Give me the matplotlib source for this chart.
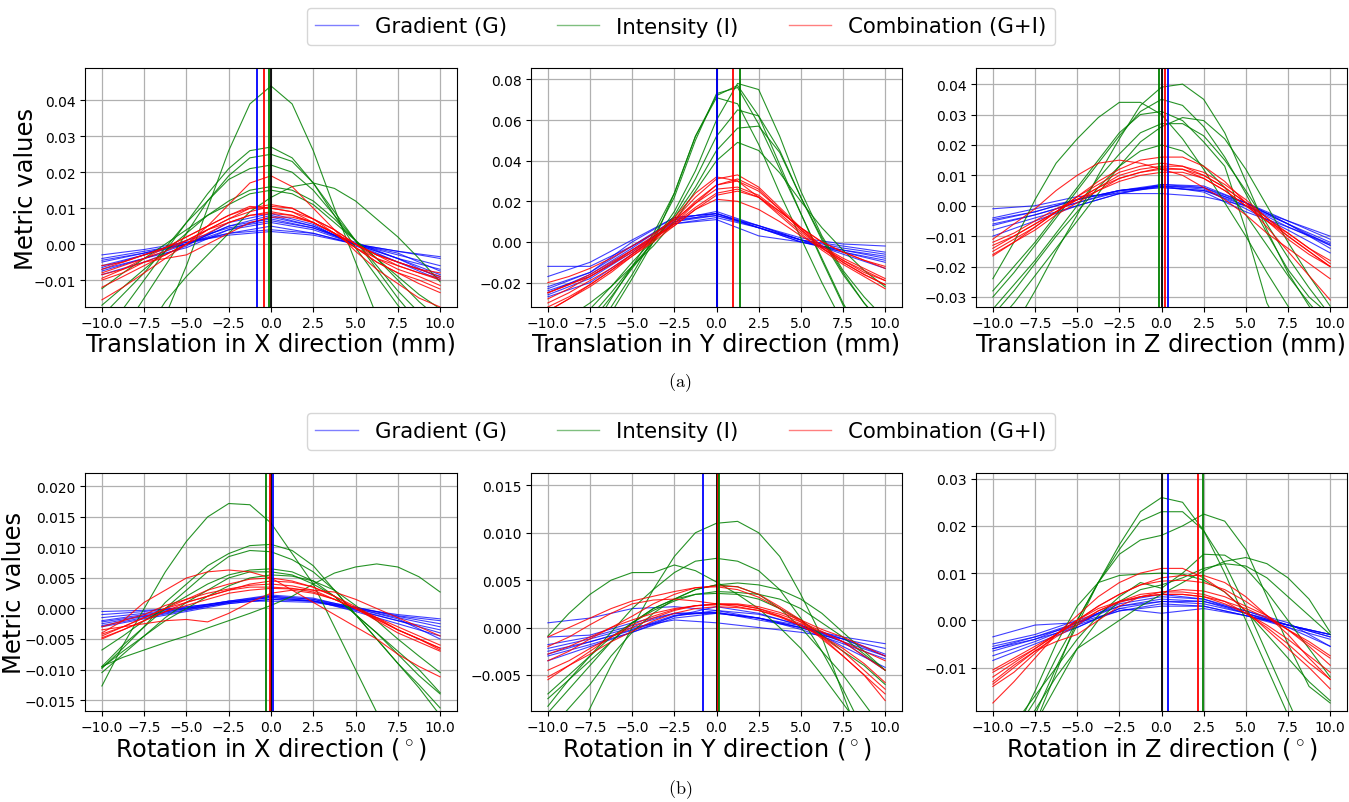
import matplotlib
matplotlib.use("Agg")
import matplotlib.pyplot as plt
from matplotlib.lines import Line2D

plt.rcParams['mathtext.fontset'] = 'cm'

X17 = [-10, -8.75, -7.5, -6.25, -5, -3.75, -2.5, -1.25, 0, 1.25, 2.5, 3.75, 5, 6.25, 7.5, 8.75, 10]
X9 = [-10, -7.5, -5, -2.5, 0, 2.5, 5, 7.5, 10]

xlabels = ["Translation in X direction (mm)", "Translation in Y direction (mm)", "Translation in Z direction (mm)",
           "Rotation in X direction ($^\\circ$)", "Rotation in Y direction ($^\\circ$)", "Rotation in Z direction ($^\\circ$)"]
legend_labels = ["Gradient (G)", "Intensity (I)", "Combination (G+I)"]
captions = ["(a)", "(b)"]

# ---------------- Translation X ----------------
tx_green = [
    [-0.055,-0.045,-0.032,-0.020,-0.006,0.010,0.026,0.039,0.044,0.039,0.026,0.010,-0.005,-0.020,-0.032,-0.042,-0.050],
    [-0.026,-0.018,-0.010,-0.002,0.006,0.014,0.021,0.026,0.027,0.024,0.017,0.008,-0.001,-0.009,-0.017,-0.024,-0.030],
    [-0.032,-0.024,-0.015,-0.006,0.003,0.012,0.019,0.024,0.025,0.023,0.017,0.009,0.001,-0.007,-0.015,-0.022,-0.028],
    [-0.020,-0.014,-0.008,-0.001,0.006,0.012,0.018,0.021,0.022,0.020,0.015,0.008,0.001,-0.006,-0.013,-0.019,-0.025],
    [-0.017,-0.012,-0.007,-0.002,0.003,0.008,0.012,0.015,0.016,0.015,0.012,0.007,0.001,-0.004,-0.010,-0.016,-0.021],
    [-0.0124,-0.008,-0.004,0.000,0.004,0.008,0.011,0.014,0.015,0.014,0.011,0.006,0.001,-0.004,-0.009,-0.014,-0.018],
    [-0.045,-0.035,-0.025,-0.016,-0.009,-0.003,0.003,0.009,0.013,0.016,0.017,0.0155,0.012,0.007,0.002,-0.004,-0.0105],
]
tx_red = [
    [-0.0155,-0.012,-0.008,-0.004,0.000,0.005,0.011,0.017,0.019,0.016,0.010,0.004,-0.002,-0.007,-0.011,-0.015,-0.0175],
    [-0.012,-0.009,-0.006,-0.003,0.000,0.004,0.007,0.010,0.011,0.010,0.007,0.003,-0.001,-0.005,-0.008,-0.011,-0.0135],
    [-0.008,-0.006,-0.004,-0.002,0.001,0.004,0.007,0.009,0.0105,0.010,0.007,0.004,0.000,-0.003,-0.005,-0.007,-0.009],
    [-0.006,-0.005,-0.003,-0.001,0.002,0.005,0.008,0.010,0.010,0.009,0.006,0.003,-0.001,-0.004,-0.006,-0.008,-0.010],
    [-0.007,-0.005,-0.003,-0.001,0.001,0.004,0.006,0.008,0.009,0.008,0.006,0.003,0.000,-0.003,-0.005,-0.007,-0.008],
    [-0.010,-0.008,-0.005,-0.003,0.000,0.003,0.006,0.008,0.0085,0.008,0.006,0.003,-0.001,-0.005,-0.008,-0.010,-0.0125],
    [-0.0085,-0.007,-0.005,-0.004,-0.003,0.000,0.003,0.006,0.0075,0.0075,0.006,0.003,0.000,-0.003,-0.006,-0.008,-0.0095],
    [-0.0095,-0.007,-0.004,-0.001,0.002,0.005,0.008,0.0105,0.010,0.009,0.007,0.004,0.000,-0.004,-0.007,-0.009,-0.0115],
]
tx_blue = [
    [-0.003,-0.0015,0.0005,0.0025,0.0035,0.0025,0.000,-0.002,-0.0035],
    [-0.004,-0.002,0.000,0.003,0.005,0.003,0.000,-0.002,-0.004],
    [-0.005,-0.0025,0.000,0.004,0.006,0.004,0.000,-0.003,-0.006],
    [-0.006,-0.003,0.000,0.005,0.007,0.0045,0.000,-0.004,-0.007],
    [-0.0075,-0.004,0.000,0.005,0.008,0.005,0.000,-0.005,-0.009],
    [-0.0085,-0.005,-0.0005,0.006,0.0085,0.0055,-0.0005,-0.005,-0.010],
    [-0.0065,-0.003,0.001,0.0045,0.0065,0.0045,0.0005,-0.004,-0.0095],
    [-0.0045,-0.0025,0.0005,0.003,0.004,0.003,0.000,-0.0025,-0.0075],
    [-0.007,-0.004,-0.001,0.004,0.0075,0.005,0.000,-0.004,-0.0085],
]
tx_vlines = [0.0, -0.82, -0.44, -0.13]   # black, blue, red, green
tx_ylim = (-0.0175, 0.049)

# ---------------- Translation Y ----------------
ty_green = [
    [-0.070,-0.060,-0.048,-0.032,-0.016,0.002,0.022,0.050,0.073,0.076,0.058,0.036,0.014,-0.008,-0.030,-0.048,-0.060],
    [-0.068,-0.058,-0.045,-0.028,-0.012,0.004,0.024,0.052,0.072,0.077,0.062,0.038,0.014,-0.009,-0.031,-0.048,-0.060],
    [-0.060,-0.050,-0.040,-0.027,-0.013,0.000,0.015,0.035,0.060,0.078,0.075,0.052,0.025,0.003,-0.014,-0.027,-0.038],
    [-0.055,-0.047,-0.037,-0.025,-0.012,0.000,0.013,0.031,0.052,0.065,0.062,0.045,0.022,0.001,-0.016,-0.030,-0.042],
    [-0.050,-0.042,-0.033,-0.022,-0.010,0.001,0.012,0.027,0.045,0.056,0.057,0.044,0.022,0.002,-0.015,-0.030,-0.042],
    [-0.043,-0.037,-0.030,-0.022,-0.012,-0.002,0.010,0.025,0.040,0.049,0.045,0.034,0.020,0.007,-0.004,-0.014,-0.022],
    [-0.072,-0.062,-0.050,-0.035,-0.018,0.000,0.024,0.052,0.071,0.068,0.048,0.024,0.002,-0.020,-0.040,-0.055,-0.068],
]
ty_red = [
    [-0.034,-0.028,-0.021,-0.014,-0.006,0.002,0.011,0.022,0.031,0.033,0.027,0.017,0.007,-0.002,-0.009,-0.015,-0.019],
    [-0.025,-0.021,-0.016,-0.010,-0.004,0.003,0.012,0.024,0.032,0.030,0.022,0.013,0.004,-0.004,-0.011,-0.017,-0.023],
    [-0.030,-0.025,-0.019,-0.013,-0.006,0.001,0.010,0.020,0.028,0.030,0.025,0.016,0.006,-0.002,-0.008,-0.013,-0.018],
    [-0.020,-0.017,-0.013,-0.008,-0.002,0.004,0.011,0.019,0.026,0.027,0.023,0.015,0.007,0.000,-0.005,-0.009,-0.012],
    [-0.025,-0.021,-0.017,-0.011,-0.005,0.002,0.009,0.017,0.024,0.026,0.022,0.014,0.005,-0.003,-0.010,-0.016,-0.021],
    [-0.032,-0.027,-0.021,-0.014,-0.007,0.000,0.008,0.016,0.023,0.025,0.022,0.015,0.007,0.000,-0.005,-0.009,-0.013],
    [-0.028,-0.023,-0.017,-0.011,-0.004,0.002,0.008,0.016,0.021,0.020,0.016,0.010,0.003,-0.003,-0.009,-0.014,-0.019],
    [-0.034,-0.028,-0.022,-0.015,-0.007,0.001,0.009,0.019,0.028,0.031,0.026,0.016,0.006,-0.003,-0.010,-0.016,-0.021],
]
ty_blue = [
    [-0.012,-0.012,-0.002,0.011,0.013,0.008,0.002,-0.001,-0.002],
    [-0.017,-0.010,0.001,0.012,0.014,0.007,0.001,-0.002,-0.005],
    [-0.022,-0.015,0.000,0.012,0.014,0.008,0.001,-0.003,-0.006],
    [-0.023,-0.015,-0.002,0.010,0.013,0.007,0.000,-0.004,-0.008],
    [-0.024,-0.017,-0.004,0.009,0.012,0.007,0.000,-0.005,-0.009],
    [-0.026,-0.018,-0.005,0.010,0.014,0.007,0.001,-0.006,-0.013],
    [-0.027,-0.020,-0.006,0.009,0.011,0.003,0.000,-0.004,-0.007],
    [-0.025,-0.016,-0.003,0.011,0.015,0.008,0.001,-0.005,-0.010],
]
ty_vlines = [0.0, 0.0, 0.95, 1.39]
ty_ylim = (-0.032, 0.0856)

# ---------------- Translation Z ----------------
tz_green = [
    [-0.024,-0.012,0.002,0.014,0.022,0.029,0.034,0.034,0.030,0.022,0.012,0.001,-0.010,-0.022,-0.033,-0.043,-0.050],
    [-0.050,-0.040,-0.028,-0.015,-0.003,0.010,0.022,0.033,0.039,0.040,0.035,0.024,0.008,-0.008,-0.022,-0.033,-0.042],
    [-0.030,-0.022,-0.013,-0.004,0.005,0.014,0.023,0.031,0.035,0.033,0.026,0.016,0.004,-0.009,-0.021,-0.030,-0.036],
    [-0.028,-0.020,-0.012,-0.003,0.006,0.015,0.024,0.030,0.031,0.028,0.021,0.013,-0.008,-0.032,-0.045,-0.055,-0.060],
    [-0.040,-0.032,-0.023,-0.014,-0.005,0.004,0.013,0.021,0.026,0.029,0.028,0.022,0.012,0.000,-0.012,-0.023,-0.033],
    [-0.034,-0.026,-0.018,-0.009,0.000,0.009,0.017,0.024,0.027,0.027,0.023,0.015,0.005,-0.006,-0.017,-0.027,-0.036],
    [-0.036,-0.028,-0.019,-0.010,-0.002,0.006,0.013,0.018,0.020,0.018,0.013,0.006,-0.003,-0.013,-0.023,-0.032,-0.040],
]
tz_red = [
    [-0.0165,-0.012,-0.007,-0.002,0.003,0.008,0.012,0.015,0.016,0.016,0.013,0.008,0.001,-0.007,-0.015,-0.023,-0.031],
    [-0.011,-0.006,-0.001,0.005,0.010,0.014,0.015,0.014,0.012,0.010,0.006,0.002,-0.003,-0.009,-0.014,-0.019,-0.024],
    [-0.015,-0.011,-0.007,-0.002,0.003,0.007,0.011,0.013,0.014,0.013,0.011,0.007,0.002,-0.004,-0.010,-0.015,-0.020],
    [-0.014,-0.010,-0.006,-0.002,0.002,0.006,0.010,0.012,0.013,0.013,0.010,0.006,0.001,-0.004,-0.009,-0.014,-0.019],
    [-0.013,-0.010,-0.006,-0.002,0.002,0.006,0.009,0.011,0.012,0.012,0.009,0.005,0.000,-0.005,-0.010,-0.015,-0.020],
    [-0.012,-0.009,-0.005,-0.001,0.002,0.005,0.008,0.010,0.011,0.011,0.009,0.005,0.000,-0.005,-0.009,-0.014,-0.018],
    [-0.016,-0.012,-0.008,-0.003,0.001,0.005,0.009,0.011,0.0125,0.012,0.010,0.006,0.001,-0.005,-0.011,-0.016,-0.020],
]
tz_blue = [
    [-0.001,0.000,0.003,0.004,0.004,0.003,0.000,-0.005,-0.010],
    [-0.004,-0.001,0.002,0.005,0.006,0.005,0.001,-0.005,-0.011],
    [-0.005,-0.002,0.002,0.005,0.0065,0.006,0.001,-0.006,-0.012],
    [-0.006,-0.003,0.001,0.005,0.007,0.006,0.000,-0.007,-0.013],
    [-0.0065,-0.003,0.001,0.0045,0.006,0.005,0.000,-0.006,-0.014],
    [-0.008,-0.004,0.000,0.004,0.0065,0.0055,-0.001,-0.008,-0.0155],
    [-0.010,-0.005,0.000,0.004,0.007,0.0065,0.001,-0.006,-0.013],
    [-0.0045,-0.002,0.002,0.005,0.0065,0.0045,-0.002,-0.007,-0.0125],
]
tz_vlines = [0.0, 0.38, 0.19, -0.15]
tz_ylim = (-0.0333, 0.0453)

# ---------------- Rotation X ----------------
rx_green = [
    [-0.0127,-0.006,0.000,0.006,0.011,0.015,0.0172,0.017,0.014,0.009,0.004,-0.003,-0.010,-0.017,-0.025,-0.033,-0.040],
    [-0.0098,-0.0065,-0.003,0.001,0.004,0.007,0.009,0.0103,0.0105,0.0095,0.007,0.003,-0.001,-0.005,-0.009,-0.013,-0.0175],
    [-0.0095,-0.006,-0.003,0.000,0.003,0.006,0.0085,0.0095,0.0093,0.008,0.006,0.003,-0.001,-0.005,-0.009,-0.0125,-0.0163],
    [-0.0068,-0.0045,-0.002,0.000,0.002,0.004,0.0055,0.0063,0.0065,0.006,0.0045,0.002,-0.001,-0.004,-0.0075,-0.011,-0.014],
    [-0.0105,-0.0075,-0.0045,-0.0015,0.001,0.003,0.005,0.006,0.006,0.0055,0.004,0.002,-0.001,-0.004,-0.007,-0.010,-0.0138],
    [-0.0097,-0.007,-0.0045,-0.002,0.000,0.002,0.0037,0.005,0.0055,0.0053,0.0045,0.003,0.0005,-0.002,-0.005,-0.0078,-0.0105],
    [-0.0095,-0.008,-0.0068,-0.0056,-0.0045,-0.0032,-0.002,-0.0008,0.0005,0.002,0.004,0.0058,0.0068,0.0073,0.0068,0.0052,0.0027],
]
rx_red = [
    [-0.004,-0.002,0.001,0.003,0.005,0.006,0.0063,0.006,0.005,0.003,0.001,-0.001,-0.003,-0.005,-0.0075,-0.0095,-0.0112],
    [-0.0045,-0.003,-0.0015,0.000,0.0015,0.003,0.004,0.0048,0.005,0.0045,0.0035,0.002,0.000,-0.002,-0.004,-0.0055,-0.007],
    [-0.003,-0.002,-0.001,0.0005,0.0015,0.0025,0.0032,0.0038,0.004,0.0037,0.003,0.0015,0.000,-0.0017,-0.0035,-0.005,-0.0065],
    [-0.005,-0.0035,-0.002,-0.0005,0.001,0.002,0.003,0.0035,0.0035,0.0033,0.0027,0.0015,0.000,-0.0015,-0.003,-0.0045,-0.006],
    [-0.0035,-0.003,-0.0025,-0.002,-0.0018,-0.0022,-0.0008,0.001,0.0025,0.003,0.0025,0.0015,0.000,-0.0018,-0.0035,-0.005,-0.0068],
    [-0.0042,-0.003,-0.0015,0.000,0.001,0.002,0.003,0.004,0.0045,0.0043,0.0035,0.002,0.0003,-0.0015,-0.0035,-0.005,-0.0065],
    [-0.0048,-0.0035,-0.002,-0.0005,0.0005,0.0015,0.0025,0.003,0.0033,0.0032,0.003,0.0027,0.0015,0.000,-0.0015,-0.003,-0.0045],
]
rx_blue = [
    [-0.0005,-0.0003,0.000,0.0008,0.0015,0.0012,0.000,-0.001,-0.0017],
    [-0.001,-0.0005,0.0003,0.001,0.0018,0.0012,0.0002,-0.0012,-0.002],
    [-0.0015,-0.0008,0.0002,0.0012,0.002,0.0015,0.0002,-0.0013,-0.0025],
    [-0.002,-0.001,0.000,0.0012,0.0022,0.0017,0.000,-0.0015,-0.003],
    [-0.0025,-0.0013,-0.0002,0.001,0.002,0.0015,-0.0002,-0.002,-0.0035],
    [-0.003,-0.0017,-0.0005,0.0008,0.0015,0.0012,-0.0003,-0.002,-0.004],
    [-0.0022,-0.0012,0.000,0.0012,0.0012,0.001,0.000,-0.0017,-0.005],
    [-0.0028,-0.0015,-0.0003,0.001,0.0018,0.0013,-0.0005,-0.0025,-0.0045],
]
rx_vlines = [0.02, 0.12, -0.03, -0.3]
rx_ylim = (-0.0168, 0.0222)

# ---------------- Rotation Y ----------------
ry_green = [
    [-0.018,-0.013,-0.0085,-0.004,0.000,0.004,0.0075,0.010,0.011,0.0112,0.010,0.0075,0.0035,-0.001,-0.007,-0.013,-0.019],
    [-0.0083,-0.0055,-0.003,-0.0005,0.002,0.004,0.0058,0.007,0.0073,0.007,0.006,0.004,0.001,-0.0025,-0.0065,-0.011,-0.015],
    [-0.0009,0.0015,0.0035,0.005,0.0058,0.0058,0.0066,0.006,0.0048,0.0035,0.002,0.000,-0.0022,-0.005,-0.008,-0.011,-0.014],
    [-0.007,-0.005,-0.003,-0.001,0.0005,0.002,0.003,0.004,0.0045,0.0047,0.0045,0.004,0.003,0.0015,-0.0005,-0.0025,-0.0045],
    [-0.011,-0.0085,-0.006,-0.003,-0.0005,0.0015,0.003,0.004,0.0045,0.0043,0.0035,0.002,0.000,-0.0025,-0.005,-0.008,-0.011],
    [-0.0075,-0.0055,-0.0035,-0.0015,0.0005,0.0018,0.0028,0.0035,0.0038,0.0037,0.0035,0.003,0.002,0.0005,-0.001,-0.0028,-0.0045],
    [-0.009,-0.0065,-0.004,-0.0015,0.0005,0.002,0.003,0.0035,0.0036,0.0035,0.003,0.002,0.0008,-0.0008,-0.0025,-0.004,-0.006],
]
ry_red = [
    [-0.0035,-0.0025,-0.0012,0.000,0.0012,0.0025,0.0035,0.0042,0.0044,0.0043,0.0035,0.0022,0.0008,-0.001,-0.003,-0.005,-0.0077],
    [-0.001,0.000,0.001,0.002,0.0028,0.0033,0.0038,0.0042,0.0043,0.004,0.0032,0.002,0.0006,-0.0012,-0.003,-0.005,-0.007],
    [-0.002,-0.001,0.0003,0.0015,0.0025,0.0029,0.003,0.0028,0.0025,0.0022,0.0018,0.0012,0.0004,-0.0005,-0.0015,-0.0025,-0.0035],
    [-0.0045,-0.0035,-0.0022,-0.001,0.000,0.001,0.0018,0.0023,0.0025,0.0024,0.002,0.0012,0.0002,-0.001,-0.0025,-0.0045,-0.0065],
    [-0.0055,-0.004,-0.0025,-0.001,0.0003,0.0012,0.0019,0.0023,0.0025,0.0025,0.0022,0.0016,0.0008,-0.0002,-0.001,-0.002,-0.003],
    [-0.0028,-0.002,-0.001,0.000,0.0008,0.0015,0.002,0.0023,0.0024,0.0024,0.002,0.0014,0.0006,-0.0004,-0.0015,-0.003,-0.0045],
    [-0.0052,-0.004,-0.0028,-0.0015,-0.0004,0.0007,0.0015,0.002,0.0022,0.0021,0.0018,0.0011,0.0002,-0.0009,-0.0022,-0.0038,-0.0058],
]
ry_blue = [
    [0.0005,0.001,0.002,0.0022,0.0018,0.001,0.000,-0.001,-0.0017],
    [-0.001,-0.0008,0.0005,0.0015,0.0015,0.001,0.0002,-0.0012,-0.0022],
    [-0.0018,-0.001,0.0002,0.0015,0.0016,0.0008,0.000,-0.0012,-0.0028],
    [-0.0025,-0.0015,-0.0002,0.0013,0.0016,0.001,0.000,-0.0015,-0.003],
    [-0.003,-0.0018,-0.0005,0.001,0.0015,0.001,-0.0002,-0.0017,-0.0033],
    [-0.0035,-0.002,-0.0005,0.0012,0.0022,0.0015,0.0002,-0.0015,-0.0045],
    [-0.0022,-0.0012,0.000,0.0008,0.0005,0.000,-0.0005,-0.0012,-0.003],
    [-0.0028,-0.0015,-0.0003,0.0012,0.0018,0.0014,0.0003,-0.002,-0.0042],
]
ry_vlines = [0.0, -0.82, 0.07, 0.15]
ry_ylim = (-0.0088, 0.0163)

# ---------------- Rotation Z ----------------
rz_green = [
    [-0.040,-0.030,-0.020,-0.010,-0.001,0.008,0.016,0.023,0.026,0.025,0.019,0.010,0.000,-0.010,-0.020,-0.029,-0.038],
    [-0.038,-0.030,-0.022,-0.011,0.000,0.008,0.015,0.021,0.023,0.023,0.019,0.012,0.003,-0.007,-0.017,-0.027,-0.036],
    [-0.030,-0.024,-0.017,-0.008,0.000,0.008,0.014,0.017,0.018,0.020,0.0225,0.021,0.015,0.005,-0.005,-0.014,-0.0175],
    [-0.028,-0.022,-0.016,-0.010,-0.004,0.001,0.005,0.008,0.0068,0.010,0.014,0.0138,0.011,0.006,0.000,-0.006,-0.012],
    [-0.032,-0.025,-0.019,-0.012,-0.006,-0.003,0.000,0.003,0.0055,0.008,0.0105,0.0125,0.0133,0.012,0.009,0.0045,-0.0025],
    [-0.038,-0.030,-0.022,-0.014,-0.006,0.000,0.004,0.0065,0.0075,0.009,0.011,0.012,0.0115,0.009,0.005,0.001,-0.003],
    [-0.032,-0.024,-0.015,-0.005,0.003,0.008,0.0095,0.0098,0.010,0.0098,0.0085,0.006,0.002,-0.003,-0.008,-0.013,-0.017],
]
rz_red = [
    [-0.0175,-0.013,-0.008,-0.003,0.001,0.005,0.008,0.010,0.011,0.011,0.009,0.006,0.002,-0.002,-0.006,-0.010,-0.0145],
    [-0.011,-0.0085,-0.006,-0.003,0.000,0.003,0.0055,0.0075,0.009,0.0095,0.0095,0.008,0.005,0.001,-0.003,-0.008,-0.0125],
    [-0.014,-0.011,-0.007,-0.003,0.000,0.003,0.0055,0.0075,0.0083,0.0085,0.008,0.0065,0.004,0.001,-0.002,-0.0055,-0.0095],
    [-0.012,-0.009,-0.006,-0.003,0.000,0.0025,0.004,0.0055,0.006,0.0065,0.0062,0.005,0.003,0.001,-0.002,-0.005,-0.008],
    [-0.013,-0.0095,-0.0065,-0.0035,-0.001,0.002,0.0038,0.005,0.0055,0.0055,0.005,0.004,0.0025,0.0005,-0.002,-0.0045,-0.0075],
    [-0.0105,-0.008,-0.0055,-0.003,-0.0005,0.002,0.004,0.005,0.0055,0.0055,0.005,0.0035,0.0015,-0.001,-0.004,-0.0075,-0.011],
    [-0.0135,-0.010,-0.0065,-0.0045,-0.003,0.000,0.003,0.005,0.006,0.006,0.0055,0.004,0.0015,-0.0015,-0.005,-0.009,-0.0125],
]
rz_blue = [
    [-0.0035,-0.001,-0.0005,0.002,0.003,0.003,0.001,-0.001,-0.003],
    [-0.005,-0.003,0.000,0.003,0.004,0.004,0.0015,-0.001,-0.0035],
    [-0.006,-0.0035,-0.0005,0.003,0.0045,0.004,0.002,-0.001,-0.0035],
    [-0.0055,-0.0035,-0.001,0.002,0.0035,0.003,0.001,-0.001,-0.003],
    [-0.0065,-0.004,-0.0005,0.0035,0.005,0.0045,0.002,-0.0005,-0.0055],
    [-0.0075,-0.0045,-0.001,0.004,0.0055,0.0045,0.0015,-0.0015,-0.0055],
    [-0.0085,-0.005,-0.0015,0.0025,0.0015,0.0025,0.001,-0.0015,-0.004],
    [-0.006,-0.004,-0.0015,0.0025,0.004,0.0035,0.0015,-0.001,-0.003],
]
rz_vlines = [0.0, 0.36, 2.19, 2.49]
rz_ylim = (-0.0192, 0.0312)

panels = [
    (tx_blue, tx_green, tx_red, tx_vlines, tx_ylim),
    (ty_blue, ty_green, ty_red, ty_vlines, ty_ylim),
    (tz_blue, tz_green, tz_red, tz_vlines, tz_ylim),
    (rx_blue, rx_green, rx_red, rx_vlines, rx_ylim),
    (ry_blue, ry_green, ry_red, ry_vlines, ry_ylim),
    (rz_blue, rz_green, rz_red, rz_vlines, rz_ylim),
]

W, H = 1349, 803
fig = plt.figure(figsize=(W / 100, H / 100), dpi=100)

lefts = [85, 531, 976]
widths = [372, 371, 371]
rows = [(69, 308), (474, 712)]
ylabel_x = [-0.126, -0.158]

for i, (blue, green, red, vls, ylim) in enumerate(panels):
    r, c = divmod(i, 3)
    top, bot = rows[r]
    ax = fig.add_axes([lefts[c] / W, 1 - bot / H, widths[c] / W, (bot - top) / H])
    for y in blue:
        ax.plot(X9, y, color='blue', lw=0.8, alpha=0.75)
    for y in green:
        ax.plot(X17, y, color='green', lw=0.8, alpha=0.85)
    for y in red:
        ax.plot(X17, y, color='red', lw=0.8, alpha=0.85)
    for v, col in zip(vls, ['black', 'blue', 'red', 'green']):
        ax.axvline(v, color=col, lw=1.3)
    ax.set_xlim(-11, 11)
    ax.set_ylim(*ylim)
    ax.set_xticks([-10, -7.5, -5, -2.5, 0, 2.5, 5, 7.5, 10])
    ax.grid(True, color='#b0b0b0', lw=0.9)
    ax.tick_params(labelsize=10, pad=3)
    ax.set_xlabel(xlabels[i], fontsize=17.3, labelpad=1)
    if c == 0:
        ax.set_ylabel("Metric values", fontsize=17.5)
        ax.yaxis.set_label_coords(ylabel_x[r], 0.5)

handles = [Line2D([], [], color=cl, lw=1.0, alpha=0.5) for cl in ['blue', 'green', 'red']]
for ycen in [27.5, 432]:
    fig.legend(handles, legend_labels, loc='center', ncol=3,
               bbox_to_anchor=(681 / W, 1 - ycen / H), fontsize=15.3,
               frameon=True, handlelength=2.0, columnspacing=2.35, borderpad=0.4)

fig.text(680 / W, 1 - 383 / H, r'$\mathrm{(a)}$', ha='center', va='center', fontsize=13)
fig.text(680 / W, 1 - 790 / H, r'$\mathrm{(b)}$', ha='center', va='center', fontsize=13)

fig.savefig("out.png", dpi=100)
